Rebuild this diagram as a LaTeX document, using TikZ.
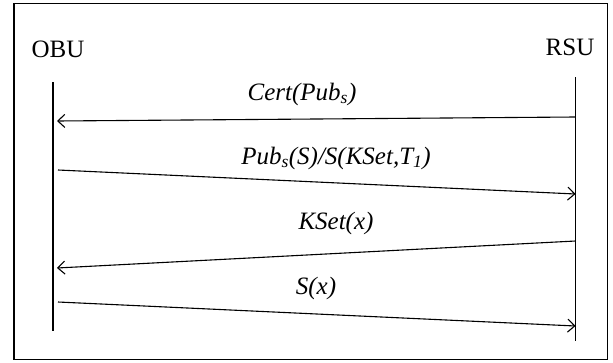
\documentclass[tikz,border=0pt]{standalone}
\usepackage{fontspec}
\setmainfont{Liberation Serif}
\usetikzlibrary{calc}
\usetikzlibrary{arrows.meta}

\tikzset{
	actor/.style={inner sep=0pt, font=\fontsize{25}{30}\selectfont},
	lbl/.style={inner sep=0pt, font=\fontsize{25}{30}\selectfont\itshape},
	lifeline/.style={line width=1.1pt, black},
	msg/.style={line width=1.1pt, black, -{Straight Barb[length=7pt,width=13pt,line width=1.1pt]}}
}

\begin{document}
\begin{tikzpicture}[x=1pt,y=-1pt]
			\useasboundingbox (0,0) rectangle (613,362);
			\draw[line width=1.3pt] (14,3.5) rectangle (607.5,359.5);

			\node[actor] (obu) at (58,49) {OBU};
			\node[actor] (rsu) at (570,47) {RSU};

			% lifelines
			\coordinate (obuTop) at (53,82);
			\coordinate (obuBot) at (53,331);
			\coordinate (rsuTop) at (575.5,77);
			\coordinate (rsuBot) at (575.5,341);
			\draw[lifeline] (obuTop) -- (obuBot);
			\draw[lifeline] (rsuTop) -- (rsuBot);

			% message ends
			\coordinate (m1a) at ($(rsuTop)+(0,40)$);
			\coordinate (m1b) at ($(obuTop)+(4,39)$);
			\coordinate (m2a) at ($(obuTop)+(5,88)$);
			\coordinate (m2b) at ($(rsuTop)+(0,117)$);
			\coordinate (m3a) at ($(rsuTop)+(0,164)$);
			\coordinate (m3b) at ($(obuTop)+(4,186)$);
			\coordinate (m4a) at ($(obuTop)+(5,220)$);
			\coordinate (m4b) at ($(rsuTop)+(0,249)$);

			\node[lbl] (cert) at (302,94) {Cert(Pub\textsubscript{s})};
			\node[lbl] (pubs) at (336,158) {Pub\textsubscript{s}(S)/S(KSet,T\textsubscript{1})};
			\node[lbl] (kset) at (336,223) {KSet(x)};
			\node[lbl] (sx) at (316,288) {S(x)};

			\draw[msg] (m1a) -- (m1b);
			\draw[msg] (m2a) -- (m2b);
			\draw[msg] (m3a) -- (m3b);
			\draw[msg] (m4a) -- (m4b);

		\end{tikzpicture}
\end{document}
